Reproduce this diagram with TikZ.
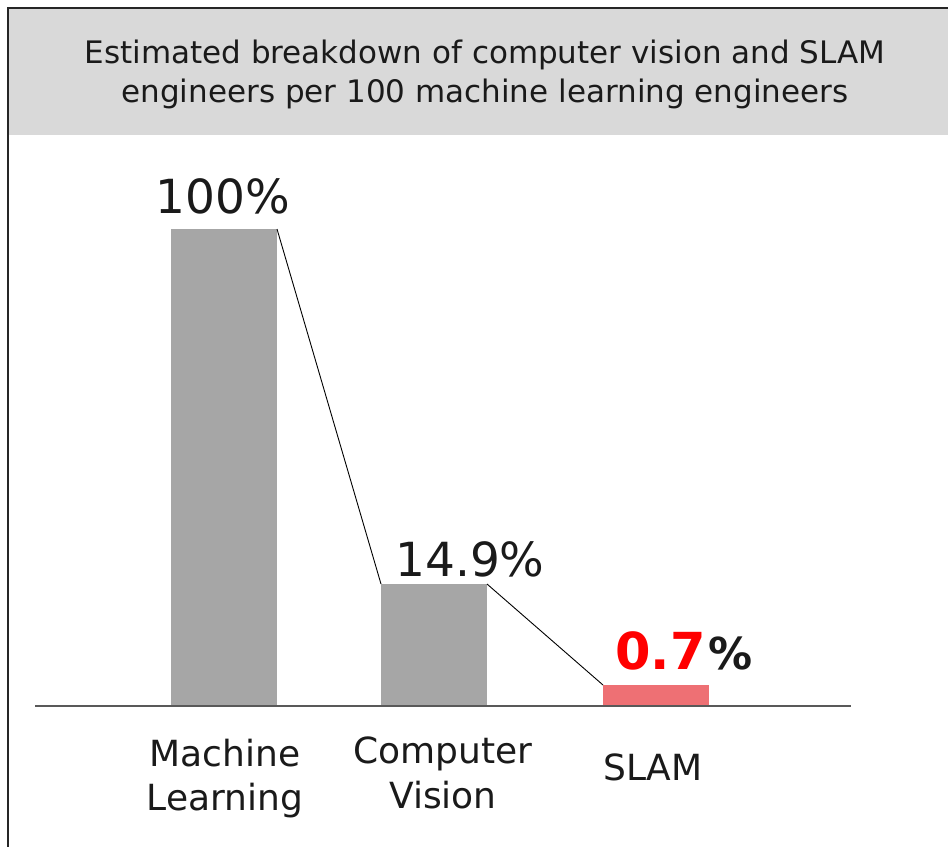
\documentclass[tikz,border=0pt]{standalone}
\usepackage{fontspec}
\setmainfont{DejaVu Sans}
\begin{document}
\begin{tikzpicture}[x=1pt,y=-1pt,
  bar/.style={fill=barg,draw=none},
  ttl/.style={anchor=base,inner sep=0pt,font=\fontsize{31}{34}\selectfont,text=txt},
  lbl/.style={anchor=base,inner sep=0pt,font=\fontsize{36}{40}\selectfont,text=txt},
  pct/.style={anchor=base,inner sep=0pt,font=\fontsize{47}{50}\selectfont,text=txt},
  conn/.style={draw=black,line width=0.9pt}]
\definecolor{hdr}{HTML}{D9D9D9}
\definecolor{barg}{HTML}{A6A6A6}
\definecolor{slam}{HTML}{EE7074}
\definecolor{axis}{HTML}{595959}
\definecolor{txt}{HTML}{1A1A1A}
\useasboundingbox (0,0) rectangle (948,847);
\fill[white] (0,0) rectangle (948,847);
% header
\fill[hdr] (9,9) rectangle (948,135);
\draw[line width=2pt,black!85] (948,8) -- (8,8) -- (8,847);
\node[ttl] (t1) at (485,63) {Estimated breakdown of computer vision and SLAM};
\node[ttl] (t2) at (485,102) {engineers per 100 machine learning engineers};
% bars
\path[bar] (171,229) rectangle (277,706);
\path[bar] (381,584) rectangle (487,706);
\path[fill=slam] (603,685) rectangle (709,706);
\coordinate (mlTR) at (277,229);
\coordinate (cvTL) at (381,584);
\coordinate (cvTR) at (487,584);
\coordinate (slTL) at (603,685);
\draw[conn] (mlTR) -- (cvTL);
\draw[conn] (cvTR) -- (slTL);
% axis
\coordinate (ax1) at (35,706);
\coordinate (ax2) at (851,706);
\draw[axis,line width=2pt] (ax1) -- (ax2);
% values
\node[pct] (v1) at (223,213) {100\%};
\node[pct] (v2) at (470,576) {14.9\%};
\node[anchor=base east,inner sep=0pt,font=\bfseries\fontsize{51}{52}\selectfont,text=red] (v3) at (706,669) {0.7};
\node[anchor=base west,inner sep=0pt,font=\bfseries\fontsize{44}{46}\selectfont,text=txt] (v3p) at ([xshift=2pt]v3.base east) {\%};
% categories
\node[lbl] (c1a) at (225,766) {Machine};
\node[lbl] (c1b) at (225,810) {Learning};
\node[lbl] (c2a) at (443,763) {Computer};
\node[lbl] (c2b) at (443,808) {Vision};
\node[lbl] (c3) at (653,780) {SLAM};
\end{tikzpicture}
\end{document}
